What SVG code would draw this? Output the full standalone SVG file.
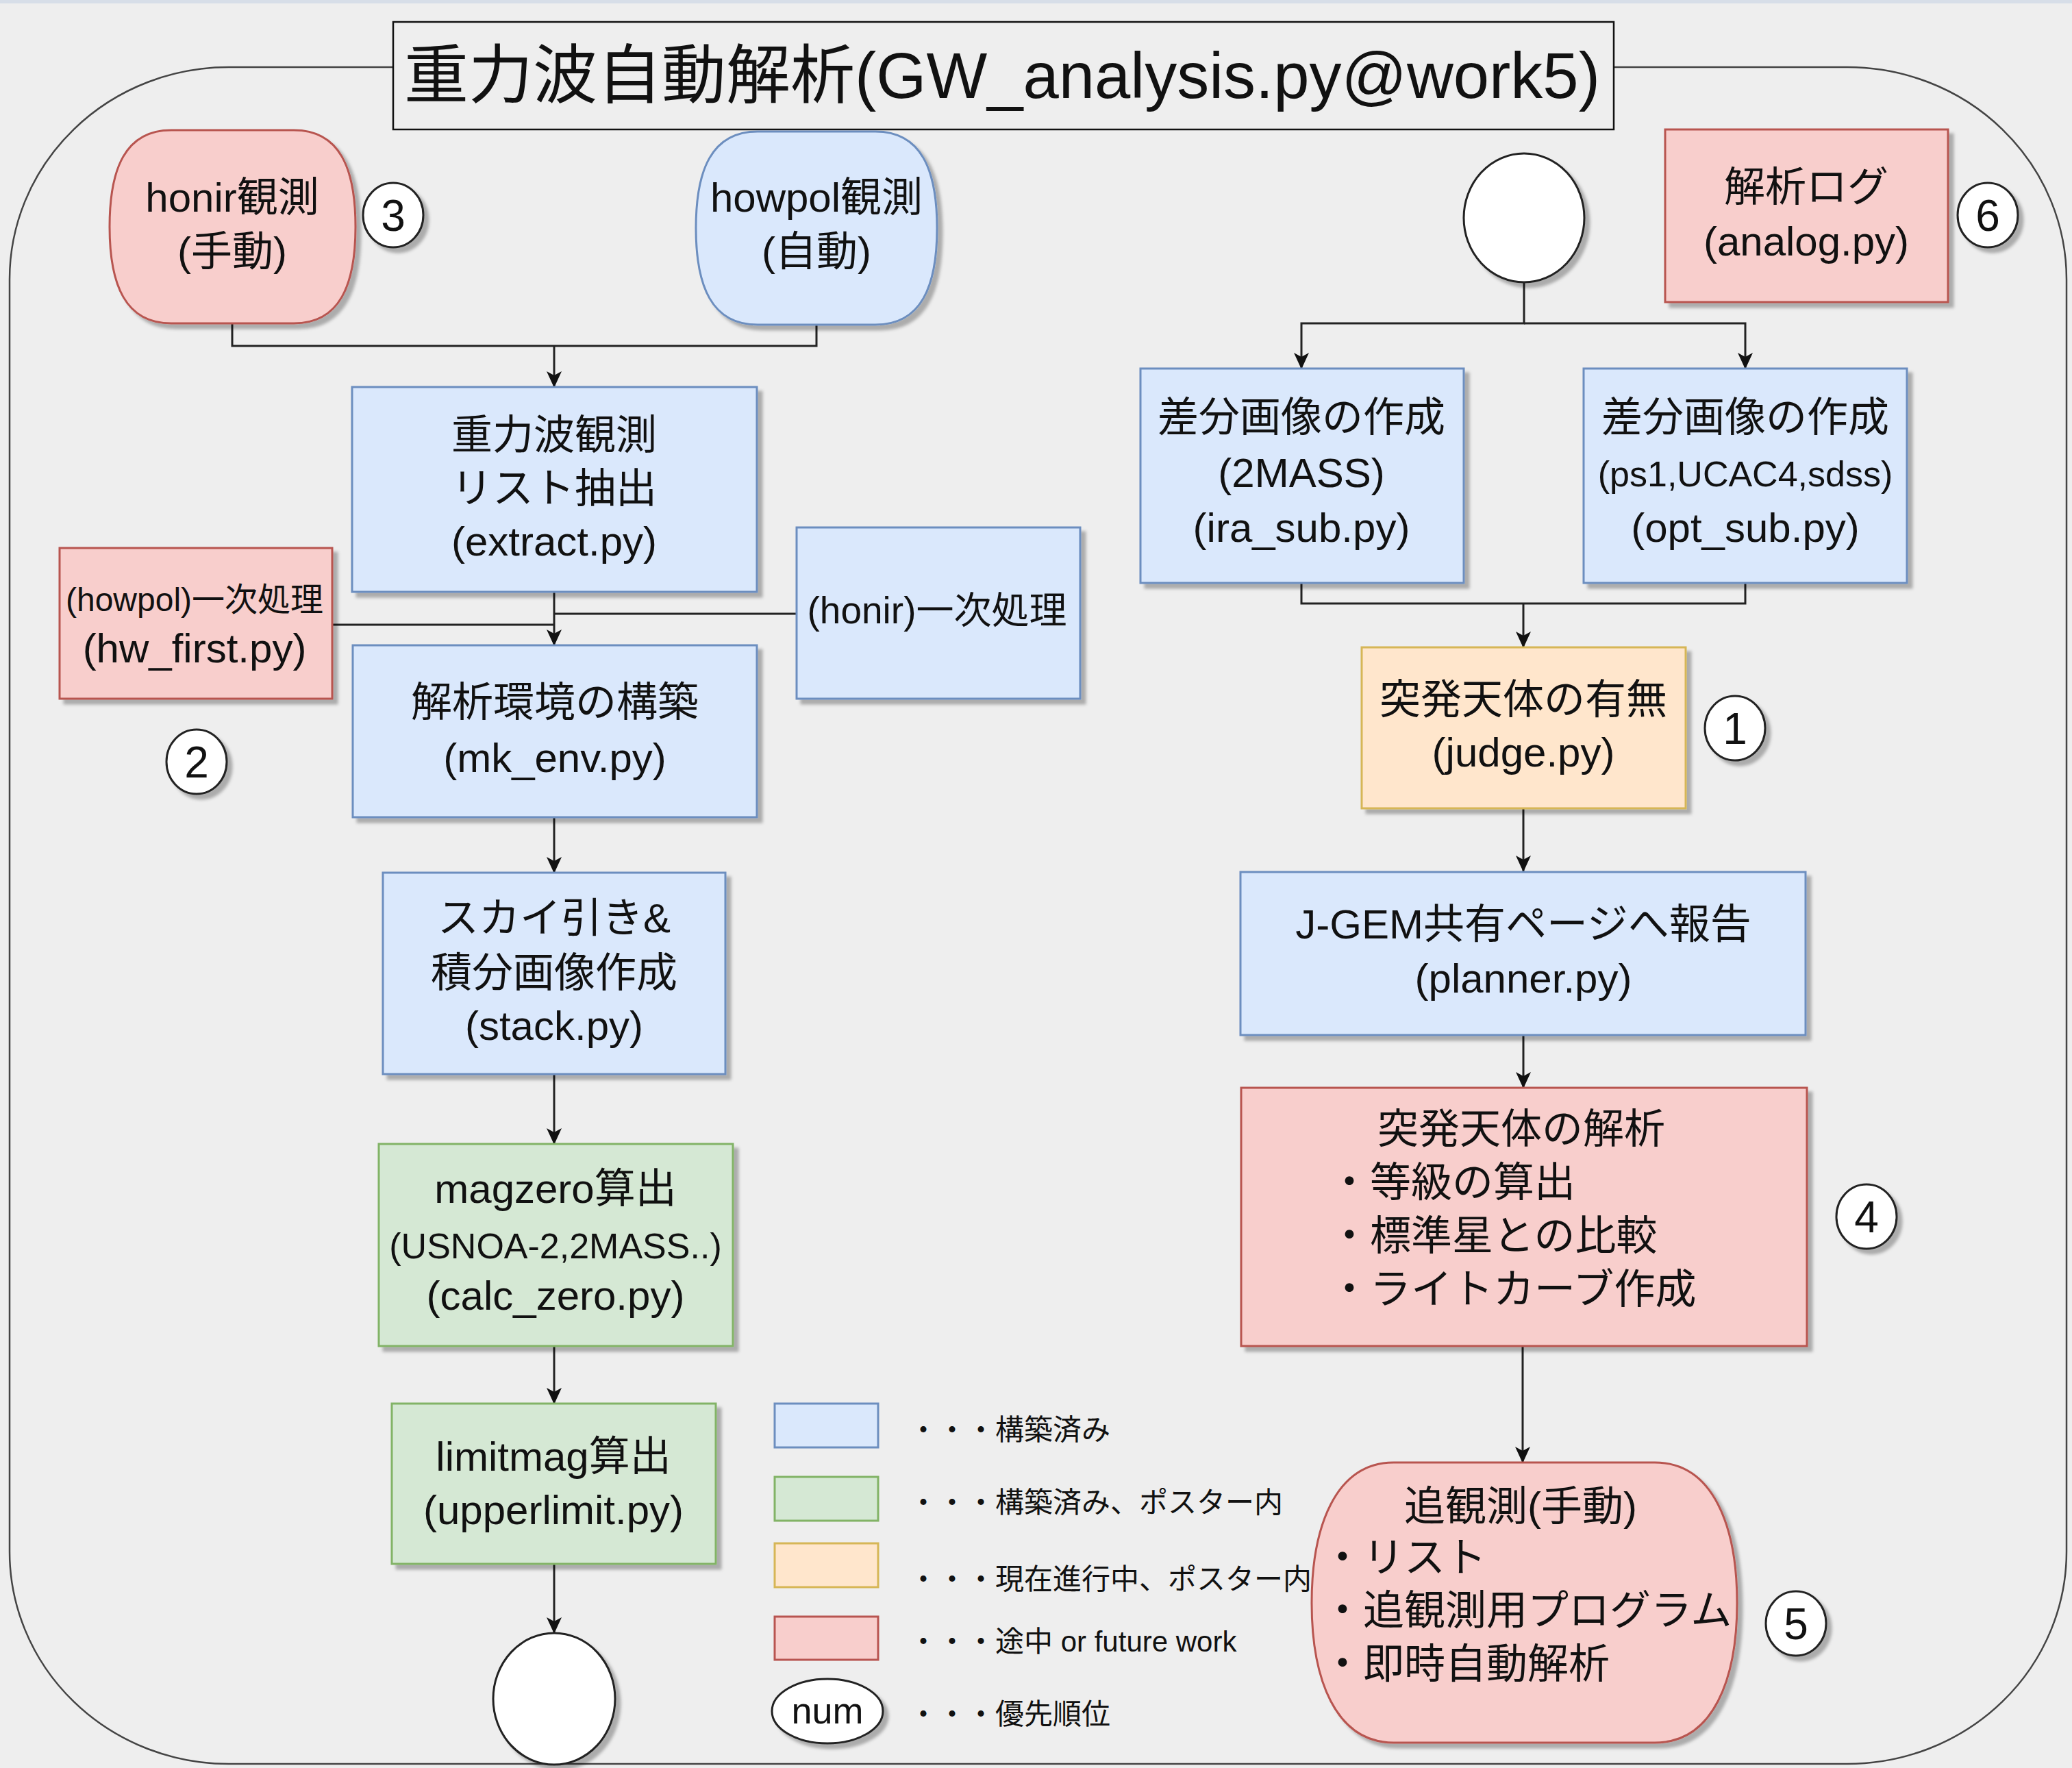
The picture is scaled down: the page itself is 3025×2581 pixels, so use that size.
<svg xmlns="http://www.w3.org/2000/svg" width="3025" height="2581" viewBox="0 0 3025 2581">
<style>
text{font-family:"Liberation Sans","Noto Sans CJK JP",sans-serif;fill:#111;}
.t{font-size:60px;text-anchor:middle;}
.s{font-size:52px;text-anchor:middle;}
.l{font-size:60px;text-anchor:start;}
.g{font-size:42px;text-anchor:start;}
.n{font-size:64px;text-anchor:middle;}
.blue{fill:#dae8fc;stroke:#6c8ebf;stroke-width:3;}
.green{fill:#d5e8d4;stroke:#82b366;stroke-width:3;}
.orange{fill:#ffe6cc;stroke:#d6b656;stroke-width:3;}
.red{fill:#f8cecc;stroke:#b85450;stroke-width:3;}
.white{fill:#ffffff;stroke:#222;stroke-width:3;}
.conn path{fill:none;stroke:#222;stroke-width:3;}
</style>
<defs>
<filter id="sh" x="-10%" y="-10%" width="130%" height="130%">
<feDropShadow dx="7" dy="7" stdDeviation="2" flood-color="#000" flood-opacity="0.28"/>
</filter>
<marker id="arr" markerWidth="24" markerHeight="22" refX="23" refY="11" orient="auto" markerUnits="userSpaceOnUse">
<path d="M0,0 L24,11 L0,22 L6,11 Z" fill="#111"/>
</marker>
</defs>
<rect x="0" y="0" width="3025" height="2581" fill="#eeeeee"/>
<rect x="0" y="0" width="3025" height="5" fill="#d7dee8"/>
<g id="container">
<rect x="14" y="98" width="3003" height="2477" rx="320" ry="310" fill="none" stroke="#444" stroke-width="2.5"/>
</g>
<g id="title">
<rect x="574" y="32" width="1782" height="157" fill="#eeeeee" stroke="#111" stroke-width="2.5"/>
<text x="1463" y="143" style="font-size:94px;text-anchor:middle">重力波自動解析(GW_analysis.py@work5)</text>
</g>
<g class="conn" id="connectors">
<path d="M339,472 V505 H1192 V474"/>
<path d="M809,505 V565" marker-end="url(#arr)"/>
<path d="M809,864 V942" marker-end="url(#arr)"/>
<path d="M485,912 H809"/>
<path d="M1163,896 H809"/>
<path d="M809,1193 V1274" marker-end="url(#arr)"/>
<path d="M809,1568 V1670" marker-end="url(#arr)"/>
<path d="M809,1965 V2049" marker-end="url(#arr)"/>
<path d="M809,2283 V2384" marker-end="url(#arr)"/>
<path d="M2225,412 V472 H1900 V538" marker-end="url(#arr)"/>
<path d="M2225,472 H2548 V538" marker-end="url(#arr)"/>
<path d="M1900,851 V881 H2548 V851"/>
<path d="M2224,881 V945" marker-end="url(#arr)"/>
<path d="M2224,1180 V1272" marker-end="url(#arr)"/>
<path d="M2224,1511 V1588" marker-end="url(#arr)"/>
<path d="M2223,1965 V2135" marker-end="url(#arr)"/>
</g>
<g id="honir_obs">
<path class="red" filter="url(#sh)" d="M250,190 H429 C496,190 519,246 519,331 C519,416 496,472 429,472 H250 C183,472 160,416 160,331 C160,246 183,190 250,190 Z"/>
<text class="t" x="339" y="309">honir観測</text>
<text class="t" x="339" y="388">(手動)</text>
</g>
<g id="howpol_obs">
<path class="blue" filter="url(#sh)" d="M1106,192 H1278 C1345,192 1368,248 1368,333 C1368,418 1345,474 1278,474 H1106 C1039,474 1016,418 1016,333 C1016,248 1039,192 1106,192 Z"/>
<text class="t" x="1192" y="309">howpol観測</text>
<text class="t" x="1192" y="388">(自動)</text>
</g>
<g id="extract">
<rect class="blue" x="514" y="565" width="591" height="299" filter="url(#sh)"/>
<text class="t" x="809" y="656">重力波観測</text>
<text class="t" x="809" y="734">リスト抽出</text>
<text class="t" x="809" y="811">(extract.py)</text>
</g>
<g id="hw_first">
<rect class="red" x="87" y="800" width="398" height="220" filter="url(#sh)"/>
<text x="284" y="892" style="font-size:48px;text-anchor:middle">(howpol)一次処理</text>
<text class="t" x="284" y="967">(hw_first.py)</text>
</g>
<g id="honir_first">
<rect class="blue" x="1163" y="770" width="414" height="250" filter="url(#sh)"/>
<text x="1368" y="910" style="font-size:55px;text-anchor:middle">(honir)一次処理</text>
</g>
<g id="mk_env">
<rect class="blue" x="515" y="942" width="590" height="251" filter="url(#sh)"/>
<text class="t" x="810" y="1046">解析環境の構築</text>
<text class="t" x="810" y="1127">(mk_env.py)</text>
</g>
<g id="stack">
<rect class="blue" x="559" y="1274" width="500" height="294" filter="url(#sh)"/>
<text class="t" x="809" y="1361">スカイ引き&amp;</text>
<text class="t" x="809" y="1441">積分画像作成</text>
<text class="t" x="809" y="1518">(stack.py)</text>
</g>
<g id="calc_zero">
<rect class="green" x="553" y="1670" width="517" height="295" filter="url(#sh)"/>
<text class="t" x="811" y="1756">magzero算出</text>
<text class="s" x="811" y="1837">(USNOA-2,2MASS..)</text>
<text class="t" x="811" y="1912">(calc_zero.py)</text>
</g>
<g id="upperlimit">
<rect class="green" x="572" y="2049" width="473" height="234" filter="url(#sh)"/>
<text class="t" x="808" y="2147">limitmag算出</text>
<text class="t" x="808" y="2225">(upperlimit.py)</text>
</g>
<g id="end_left">
<ellipse class="white" cx="809" cy="2480" rx="89" ry="96" filter="url(#sh)"/>
</g>
<g id="start_right">
<ellipse class="white" cx="2225" cy="318" rx="88" ry="94" filter="url(#sh)"/>
</g>
<g id="analog">
<rect class="red" x="2431" y="189" width="413" height="252" filter="url(#sh)"/>
<text class="t" x="2637" y="294">解析ログ</text>
<text class="t" x="2637" y="373">(analog.py)</text>
</g>
<g id="ira_sub">
<rect class="blue" x="1665" y="538" width="472" height="313" filter="url(#sh)"/>
<text class="t" x="1900" y="630">差分画像の作成</text>
<text class="t" x="1900" y="711">(2MASS)</text>
<text class="t" x="1900" y="791">(ira_sub.py)</text>
</g>
<g id="opt_sub">
<rect class="blue" x="2312" y="538" width="472" height="313" filter="url(#sh)"/>
<text class="t" x="2548" y="630">差分画像の作成</text>
<text class="s" x="2548" y="710">(ps1,UCAC4,sdss)</text>
<text class="t" x="2548" y="791">(opt_sub.py)</text>
</g>
<g id="judge">
<rect class="orange" x="1988" y="945" width="473" height="235" filter="url(#sh)"/>
<text class="t" x="2224" y="1042">突発天体の有無</text>
<text class="t" x="2224" y="1119">(judge.py)</text>
</g>
<g id="planner">
<rect class="blue" x="1811" y="1273" width="825" height="238" filter="url(#sh)"/>
<text class="t" x="2224" y="1370">J-GEM共有ページへ報告</text>
<text class="t" x="2224" y="1449">(planner.py)</text>
</g>
<g id="analysis">
<rect class="red" x="1812" y="1588" width="826" height="377" filter="url(#sh)"/>
<text class="t" x="2221" y="1669">突発天体の解析</text>
<text class="l" x="1940" y="1747">・等級の算出</text>
<text class="l" x="1940" y="1825">・標準星との比較</text>
<text class="l" x="1940" y="1903">・ライトカーブ作成</text>
</g>
<g id="followup">
<path class="red" filter="url(#sh)" d="M2035,2135 H2416 C2502,2135 2536,2230 2536,2340 C2536,2450 2502,2544 2416,2544 H2035 C1949,2544 1915,2450 1915,2340 C1915,2230 1949,2135 2035,2135 Z"/>
<text class="t" x="2220" y="2220">追観測(手動)</text>
<text class="l" x="1930" y="2295">・リスト</text>
<text class="l" x="1930" y="2372">・追観測用プログラム</text>
<text class="l" x="1930" y="2450">・即時自動解析</text>
</g>
<g id="num3"><ellipse class="white" cx="574" cy="314" rx="44" ry="47" filter="url(#sh)"/><text class="n" x="574" y="337">3</text></g>
<g id="num2"><ellipse class="white" cx="287" cy="1112" rx="44" ry="47" filter="url(#sh)"/><text class="n" x="287" y="1135">2</text></g>
<g id="num6"><ellipse class="white" cx="2902" cy="314" rx="44" ry="47" filter="url(#sh)"/><text class="n" x="2902" y="337">6</text></g>
<g id="num1"><ellipse class="white" cx="2533" cy="1063" rx="44" ry="47" filter="url(#sh)"/><text class="n" x="2533" y="1086">1</text></g>
<g id="num4"><ellipse class="white" cx="2725" cy="1776" rx="44" ry="47" filter="url(#sh)"/><text class="n" x="2725" y="1799">4</text></g>
<g id="num5"><ellipse class="white" cx="2622" cy="2370" rx="44" ry="47" filter="url(#sh)"/><text class="n" x="2622" y="2393">5</text></g>
<g id="legend">
<rect class="blue" x="1131" y="2049" width="151" height="64"/>
<text class="g" x="1327" y="2102">・・・構築済み</text>
<rect class="green" x="1131" y="2156" width="151" height="64"/>
<text class="g" x="1327" y="2208">・・・構築済み、ポスター内</text>
<rect class="orange" x="1131" y="2253" width="151" height="64"/>
<text class="g" x="1327" y="2320">・・・現在進行中、ポスター内</text>
<rect class="red" x="1131" y="2360" width="151" height="63"/>
<text class="g" x="1327" y="2411">・・・途中 or future work</text>
<ellipse class="white" cx="1208" cy="2498" rx="81" ry="47" filter="url(#sh)"/>
<text x="1208" y="2516" style="font-size:54px;text-anchor:middle">num</text>
<text class="g" x="1327" y="2517">・・・優先順位</text>
</g>
</svg>
